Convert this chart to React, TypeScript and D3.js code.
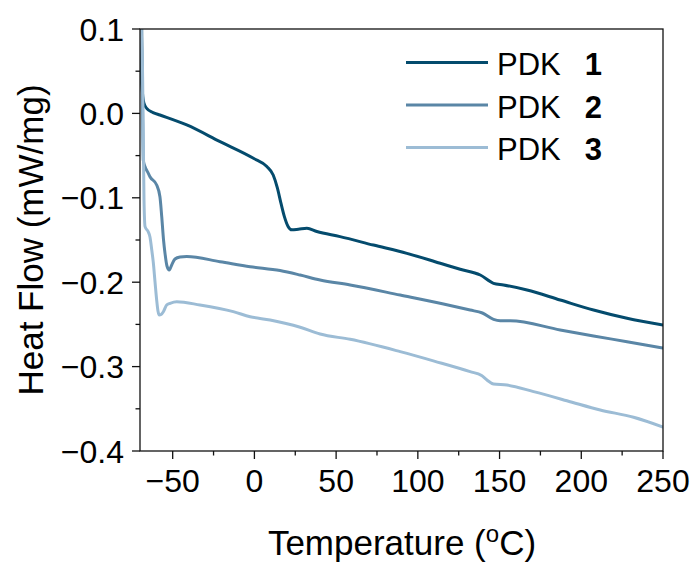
import React from "react";
import * as d3 from "d3";

const xTicks = [-50, 0, 50, 100, 150, 200, 250];
const xMinor = [-75, -25, 25, 75, 125, 175, 225];
const yTicks = [0.1, 0.0, -0.1, -0.2, -0.3, -0.4];
const yTickLabels = ["0.1", "0.0", "\u22120.1", "\u22120.2", "\u22120.3", "\u22120.4"];
const yMinor = [0.05, -0.05, -0.15, -0.25, -0.35];

const seriesNames = ["1", "2", "3"];
const seriesColors = ["#044b6d", "#5a86a6", "#9cbcd5"];

const pdk1: [number, number][] = [
  [-69.2, 0.2], [-69.0, 0.08], [-68.9, 0.036], [-67.6, 0.012], [-65.9, 0.006], [-62, 0.001],
  [-57.8, -0.0019], [-41.4, -0.0137], [-21.0, -0.0335], [-0.6, -0.0532], [7.6, -0.063],
  [11.5, -0.073], [14.0, -0.088], [16.2, -0.106], [18.3, -0.122], [20.6, -0.134], [22.9, -0.138],
  [26.9, -0.1373], [32.1, -0.1361], [38.2, -0.14], [52.4, -0.146], [72.8, -0.156],
  [93.3, -0.1658], [113.7, -0.1776], [125.9, -0.1847], [138.2, -0.1915], [146.3, -0.2013],
  [152.4, -0.2033], [166.8, -0.2092], [187.1, -0.2211], [207.5, -0.233], [228, -0.2428],
  [250, -0.2507],
];

const pdk2: [number, number][] = [
  [-69.5, 0.2], [-69.0, 0.1], [-68.4, 0.0], [-68.0, -0.0552], [-66.9, -0.0632], [-64.9, -0.071],
  [-63.9, -0.075], [-59.8, -0.0848], [-57.8, -0.0987], [-56.7, -0.1224], [-55.6, -0.15],
  [-54.7, -0.1658], [-53.5, -0.1808], [-52.1, -0.1855], [-50.6, -0.1796], [-48.6, -0.1725],
  [-45.5, -0.1701], [-41.4, -0.1695], [-21.0, -0.1757], [-2.6, -0.1816], [15.7, -0.1862],
  [28.0, -0.1915], [40.2, -0.1974], [58.6, -0.2033], [89.2, -0.2152], [115, -0.2255],
  [132, -0.233], [139.5, -0.2365], [146.3, -0.244], [150.4, -0.2456],
  [156.5, -0.2456], [187.1, -0.2566], [207.5, -0.2637], [228, -0.2705], [250, -0.278],
];

const pdk3: [number, number][] = [
  [-70.0, 0.2], [-69.2, 0.1], [-68.4, 0.0435], [-67.9, -0.0434], [-67.55, -0.1026],
  [-66.9, -0.1342], [-64.9, -0.1405], [-63.9, -0.1464], [-62.8, -0.1619], [-61.9, -0.176],
  [-60.8, -0.1998], [-59.8, -0.2211], [-59.0, -0.2341], [-58.2, -0.2389], [-57.1, -0.2383],
  [-55.7, -0.235], [-53.7, -0.227], [-51.6, -0.225], [-47.5, -0.2231], [-33.3, -0.227],
  [-12.9, -0.2349], [-2.6, -0.2409], [9.6, -0.2448], [28.0, -0.2534], [40.2, -0.2614],
  [58.6, -0.2677], [89.2, -0.2823], [110, -0.2935], [132, -0.306], [139.0, -0.3105],
  [142.3, -0.3159], [146.3, -0.3206], [154.5, -0.3218], [170.8, -0.3297], [191.2, -0.3404],
  [211.6, -0.3514], [232, -0.36], [250, -0.3716],
];

const seriesData = [pdk1, pdk2, pdk3];

const W = 696;
const H = 565;
const left = 140;
const right = 663;
const top = 29;
const bottom = 451;
const FONT = "'Liberation Sans', Arial, Helvetica, sans-serif";

export default function App() {
  const x = d3.scaleLinear().domain([-70, 250]).range([left, right]);
  const y = d3.scaleLinear().domain([-0.4, 0.1]).range([bottom, top]);
  const line = d3
    .line<[number, number]>()
    .x((d) => x(d[0]))
    .y((d) => y(d[1]))
    .curve(d3.curveMonotoneX);

  const axisColor = "#111";
  const tickFont = 32;

  return (
    <svg
      width={W}
      height={H}
      style={{ position: "absolute", left: 0, top: 0, background: "#fff" }}
      fontFamily={FONT}
    >
      <defs>
        <clipPath id="plotclip">
          <rect x={left} y={top} width={right - left} height={bottom - top} />
        </clipPath>
      </defs>

      <g clipPath="url(#plotclip)">
        {seriesData.map((data, i) => (
          <path
            key={i}
            d={line(data) || ""}
            fill="none"
            stroke={seriesColors[i]}
            strokeWidth={3}
            strokeLinejoin="round"
            strokeLinecap="round"
          />
        ))}
      </g>

      {/* frame */}
      <rect
        x={left}
        y={top}
        width={right - left}
        height={bottom - top}
        fill="none"
        stroke={axisColor}
        strokeWidth={1.3}
      />

      {/* x ticks */}
      {xTicks.map((t) => (
        <g key={"xt" + t}>
          <line x1={x(t)} x2={x(t)} y1={bottom} y2={bottom + 8} stroke={axisColor} strokeWidth={1.3} />
          <text x={x(t)} y={492} textAnchor="middle" fontSize={tickFont} fill="#000">
            {t < 0 ? "\u2212" + Math.abs(t) : String(t)}
          </text>
        </g>
      ))}
      {xMinor
        .filter((t) => t >= -70 && t <= 250)
        .map((t) => (
          <line key={"xm" + t} x1={x(t)} x2={x(t)} y1={bottom} y2={bottom + 4.5} stroke={axisColor} strokeWidth={1.3} />
        ))}

      {/* y ticks */}
      {yTicks.map((t, i) => (
        <g key={"yt" + i}>
          <line x1={left - 8} x2={left} y1={y(t)} y2={y(t)} stroke={axisColor} strokeWidth={1.3} />
          <text x={124} y={y(t) + 11.5} textAnchor="end" fontSize={tickFont} fill="#000">
            {yTickLabels[i]}
          </text>
        </g>
      ))}
      {yMinor.map((t, i) => (
        <line key={"ym" + i} x1={left - 4.5} x2={left} y1={y(t)} y2={y(t)} stroke={axisColor} strokeWidth={1.3} />
      ))}

      {/* axis titles */}
      <text transform={`translate(43, 240) rotate(-90)`} textAnchor="middle" fontSize={35} fill="#000">
        Heat Flow (mW/mg)
      </text>
      <text x={402} y={555} textAnchor="middle" fontSize={35} fill="#000">
        Temperature (
        <tspan fontSize={24} dy={-13}>o</tspan>
        <tspan dy={13}>C)</tspan>
      </text>

      {/* legend */}
      {seriesNames.map((name, i) => {
        const by = 75 + i * 42.5;
        return (
          <g key={"lg" + i}>
            <line x1={406} x2={488} y1={by - 12.5} y2={by - 12.5} stroke={seriesColors[i]} strokeWidth={3} />
            <text x={497} y={by} fontSize={31} fill="#000">
              PDK
              <tspan dx={24} fontWeight="bold">{name}</tspan>
            </text>
          </g>
        );
      })}
    </svg>
  );
}
